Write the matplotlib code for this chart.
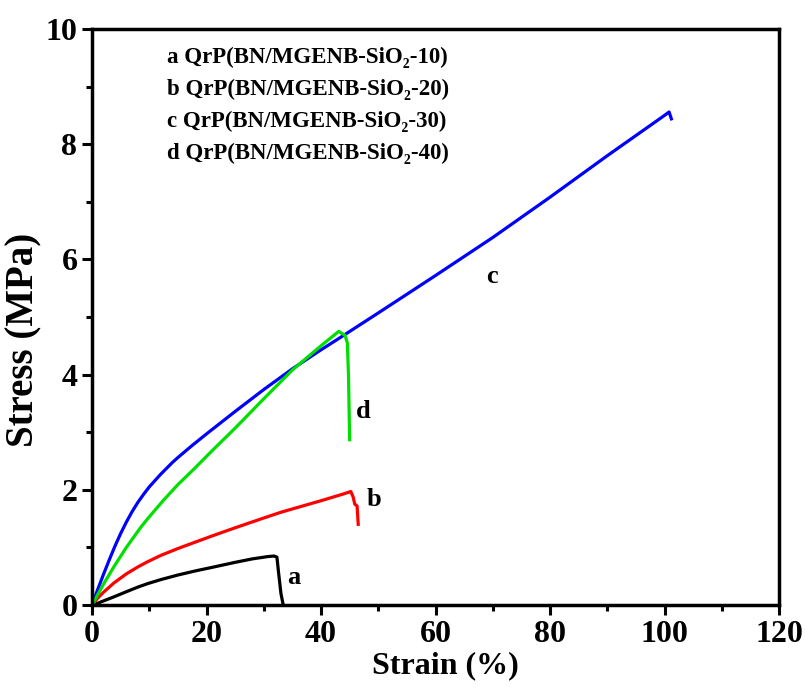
import matplotlib
matplotlib.use('Agg')
import matplotlib.pyplot as plt
from matplotlib.ticker import MultipleLocator

plt.rcParams['font.family'] = ['Liberation Serif', 'DejaVu Serif']
plt.rcParams['font.weight'] = 'bold'

# Strain (%) / stress (MPa)
strain_a = [0, 1, 2, 3.8, 6, 8, 9.7, 12, 15, 18, 21.3, 25, 28, 30.7, 31.8, 32.3, 32.6, 33.0, 33.4]
stress_a = [0, 0.03, 0.07, 0.14, 0.23, 0.31, 0.37, 0.44, 0.52, 0.59, 0.66, 0.74, 0.8, 0.84, 0.85,
            0.83, 0.55, 0.2, 0]

strain_b = [0, 1, 2, 3.8, 6, 8, 9.7, 12, 15, 18, 21.3, 25, 30, 33, 40, 44, 45.2, 45.6, 45.9, 46.3, 46.5]
stress_b = [0, 0.12, 0.22, 0.38, 0.54, 0.66, 0.75, 0.86, 0.98, 1.09, 1.21, 1.34, 1.51, 1.61, 1.81, 1.93,
            1.97, 1.88, 1.75, 1.72, 1.4]

strain_c = [0, 1, 2, 3, 4, 5, 6, 7, 8, 9, 10, 11, 12, 13, 14, 15, 17.5, 20, 25, 30, 35, 40, 43,
            50, 60, 70, 80, 90, 100, 100.8, 101.2]
stress_c = [0, 0.27, 0.53, 0.78, 1.02, 1.24, 1.44, 1.62, 1.78, 1.92, 2.05, 2.16, 2.27, 2.37, 2.47,
            2.56, 2.77, 2.97, 3.36, 3.74, 4.1, 4.43, 4.62, 5.07, 5.72, 6.38, 7.08, 7.8, 8.5, 8.56, 8.44]

strain_d = [0, 2, 3.8, 6, 8.6, 10, 12.5, 15, 17.5, 21.2, 25, 30, 35, 40, 43.1, 44.2, 44.6, 44.8, 45.0]
stress_d = [0, 0.36, 0.66, 1.0, 1.36, 1.53, 1.82, 2.09, 2.33, 2.7, 3.07, 3.58, 4.08, 4.5, 4.75, 4.68,
            4.55, 4.0, 2.87]

legend_lines = ['a QrP(BN/MGENB-SiO\u2082-10)', 'b QrP(BN/MGENB-SiO\u2082-20)',
                'c QrP(BN/MGENB-SiO\u2082-30)', 'd QrP(BN/MGENB-SiO\u2082-40)']
curve_labels = ['a', 'b', 'c', 'd']
label_pos = [(35.2, 0.47), (49.2, 1.83), (69.8, 5.7), (47.4, 3.36)]

fig = plt.figure(figsize=(8.05, 6.91), dpi=100)
ax = fig.add_axes([0.1143, 0.1245, 0.8534, 0.8335])

ax.plot(strain_a, stress_a, c='black', lw=2.3)
ax.plot(strain_b, stress_b, c='#ff0000', lw=2.3)
ax.plot(strain_c, stress_c, c='#0000ff', lw=2.3)
ax.plot(strain_d, stress_d, c='#00e000', lw=2.3)

for lab, (x, y) in zip(curve_labels, label_pos):
    ax.text(x, y, lab, fontsize=19, fontweight='bold', ha='center', va='center')

for i, line in enumerate(legend_lines):
    ax.text(0.109, 0.951 - i * 0.0557, line, transform=ax.transAxes,
            fontsize=16.5, fontweight='bold', ha='left', va='center')

ax.set_xlim(0, 120)
ax.set_ylim(0, 10)
ax.xaxis.set_major_locator(MultipleLocator(20))
ax.xaxis.set_minor_locator(MultipleLocator(10))
ax.yaxis.set_major_locator(MultipleLocator(2))
ax.yaxis.set_minor_locator(MultipleLocator(1))
ax.tick_params(which='major', direction='out', length=7, width=2.2, labelsize=23)
ax.tick_params(which='minor', direction='out', length=4, width=2.2)
for side in ax.spines.values():
    side.set_linewidth(2.5)

ax.set_xlabel('Strain (%)', fontsize=23, fontweight='bold')
ax.set_ylabel('Stress (MPa)', fontsize=28, fontweight='bold')
ax.xaxis.set_label_coords(0.514, -0.08)
ax.yaxis.set_label_coords(-0.072, 0.46)

fig.savefig('out.png', dpi=100)
